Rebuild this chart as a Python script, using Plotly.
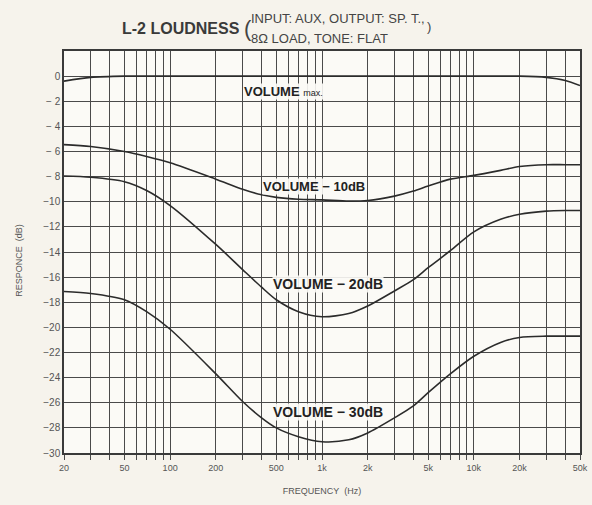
import math
import plotly.graph_objects as go

# ---- data ----
freq_hz = [20, 30, 50, 70, 100, 200, 300, 400, 500, 700, 1000, 1500, 2000,
           3000, 4000, 5000, 7000, 10000, 15000, 20000, 30000, 40000, 50000]
vol_max = [-0.4, -0.1, 0, 0, 0, 0, 0, 0, 0, 0, 0, 0, 0,
           0, 0, 0, 0, 0, 0, 0, -0.1, -0.35, -0.75]
vol_m10 = [-5.45, -5.6, -6.0, -6.4, -6.9, -8.2, -9.0, -9.45, -9.65, -9.8, -9.85, -9.95, -9.9,
           -9.55, -9.15, -8.75, -8.2, -7.9, -7.5, -7.2, -7.05, -7.05, -7.05]
vol_m20 = [-7.95, -8.05, -8.4, -9.1, -10.3, -13.4, -15.4, -16.8, -17.8, -18.75, -19.15, -18.9, -18.3,
           -17.1, -16.2, -15.25, -13.9, -12.4, -11.4, -11.0, -10.75, -10.7, -10.7]
vol_m30 = [-17.15, -17.3, -17.8, -18.75, -20.15, -23.7, -25.9, -27.2, -28.0, -28.7, -29.1, -28.95, -28.4,
           -27.2, -26.25, -25.2, -23.7, -22.3, -21.2, -20.8, -20.7, -20.7, -20.7]

x_grid = [20, 30, 40, 50, 60, 70, 80, 90,
          100, 200, 300, 400, 500, 600, 700, 800, 900,
          1000, 2000, 3000, 4000, 5000, 6000, 7000, 8000, 9000,
          10000, 20000, 30000, 40000, 50000]
x_labels = {20: "20", 50: "50", 100: "100", 200: "200", 500: "500", 1000: "1k",
            2000: "2k", 5000: "5k", 10000: "10k", 20000: "20k", 50000: "50k"}
y_ticks = [2, 0, -2, -4, -6, -8, -10, -12, -14, -16, -18, -20, -22, -24, -26, -28, -30]
y_labels = ["", "0", "− 2", "− 4", "− 6", "− 8", "−10", "−12", "−14", "−16", "−18",
            "−20", "−22", "−24", "−26", "−28", "−30"]

series = [vol_max, vol_m10, vol_m20, vol_m30]
curve_labels = [
    ("<b>VOLUME</b> <span style='font-size:9px'>max.</span>", 560, -1.2, 13),
    ("<b>VOLUME − 10dB</b>", 880, -8.75, 13),
    ("<b>VOLUME − 20dB</b>", 1100, -16.55, 14),
    ("<b>VOLUME − 30dB</b>", 1100, -26.7, 14),
]

FONT = "Liberation Sans, Arial, sans-serif"
INK = "#2b2b2b"
PAPER = "#f6f3ec"
PLOT = "#fbfaf6"

fig = go.Figure()
for ys in series:
    fig.add_trace(go.Scatter(x=freq_hz, y=ys, mode="lines",
                             line=dict(color=INK, width=1.6, shape="spline", smoothing=0.8),
                             showlegend=False, hoverinfo="skip"))

for text, fx, fy, fs in curve_labels:
    fig.add_annotation(x=math.log10(fx), y=fy, xref="x", yref="y", text=text, showarrow=False,
                       font=dict(family=FONT, size=fs, color="#222"),
                       bgcolor="rgba(251,250,246,0.9)", borderpad=0)

# title pieces
fig.add_annotation(x=0.3454, y=1.0572, xref="paper", yref="paper", xanchor="right", yanchor="middle",
                   text="<b>L-2 LOUDNESS</b>", showarrow=False,
                   font=dict(family=FONT, size=16, color="#3a3a3a"))
fig.add_annotation(x=0.3454, y=1.0572, xref="paper", yref="paper", xanchor="left", yanchor="middle",
                   text="(", showarrow=False, font=dict(family=FONT, size=22, color="#444"))
fig.add_annotation(x=0.3588, y=1.082, xref="paper", yref="paper", xanchor="left", yanchor="middle",
                   text="INPUT: AUX, OUTPUT: SP. T.,", showarrow=False,
                   font=dict(family=FONT, size=13, color="#444"))
fig.add_annotation(x=0.3588, y=1.032, xref="paper", yref="paper", xanchor="left", yanchor="middle",
                   text="8Ω LOAD, TONE: FLAT", showarrow=False,
                   font=dict(family=FONT, size=13, color="#444"))
fig.add_annotation(x=0.700, y=1.062, xref="paper", yref="paper", xanchor="left", yanchor="middle",
                   text=")", showarrow=False, font=dict(family=FONT, size=13, color="#444"))

# y-axis title
fig.add_annotation(x=-0.0878, y=0.48, xref="paper", yref="paper", xanchor="center", yanchor="middle",
                   text="RESPONCE  (dB)", textangle=-90, showarrow=False,
                   font=dict(family=FONT, size=9, color="#555"))

fig.update_xaxes(type="log", range=[1.30103, 4.69897],
                 tickmode="array", tickvals=x_grid,
                 ticktext=[x_labels.get(v, "") for v in x_grid],
                 ticklabeloverflow="allow",
                 showgrid=True, gridcolor="#4a4a4a", gridwidth=1.2,
                 showline=True, linecolor="#3a3a3a", linewidth=1.5, mirror=True,
                 ticks="outside", ticklen=5, tickcolor="#4a4a4a",
                 tickfont=dict(family=FONT, size=9, color="#555"),
                 title=dict(text="FREQUENCY  (Hz)", font=dict(family=FONT, size=9, color="#555"),
                            standoff=16),
                 zeroline=False)
fig.update_yaxes(range=[-30, 2], tickmode="array", tickvals=y_ticks, ticktext=y_labels,
                 showgrid=True, gridcolor="#4a4a4a", gridwidth=1.2,
                 showline=True, linecolor="#3a3a3a", linewidth=1.5, mirror=True,
                 ticks="", tickfont=dict(family=FONT, size=10, color="#555"),
                 zeroline=False)

fig.update_layout(width=592, height=505,
                  margin=dict(l=64, r=4, t=51, b=52),
                  paper_bgcolor=PAPER, plot_bgcolor=PLOT,
                  font=dict(family=FONT))

fig.write_html("out.html", config={"displayModeBar": False},
               post_script="document.body.style.margin='0';document.body.style.background='%s';" % PAPER)
